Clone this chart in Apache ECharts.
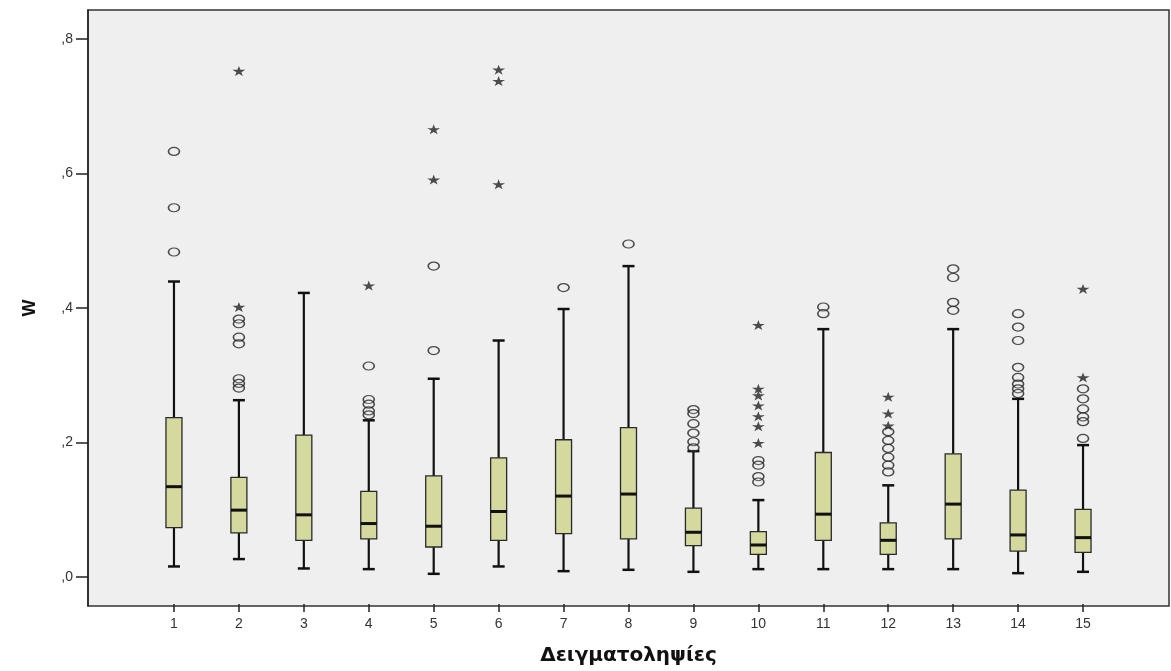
<!DOCTYPE html>
<html><head><meta charset="utf-8">
<script src="https://cdn.jsdelivr.net/npm/echarts@6/dist/echarts.min.js"></script>
<style>html,body{margin:0;padding:0;background:#fff}#c{width:1171px;height:671px}</style>
</head><body><div id="c"></div>
<script>
// ---- data ----
const categories = ['1','2','3','4','5','6','7','8','9','10','11','12','13','14','15'];
const lowWhisker  = [0.013,0.024,0.010,0.009,0.002,0.013,0.006,0.008,0.005,0.009,0.009,0.009,0.009,0.003,0.005];
const q1          = [0.071,0.063,0.052,0.054,0.042,0.052,0.062,0.054,0.044,0.031,0.052,0.031,0.054,0.036,0.034];
const median      = [0.132,0.097,0.090,0.077,0.073,0.095,0.118,0.121,0.064,0.045,0.091,0.052,0.106,0.060,0.056];
const q3          = [0.235,0.146,0.209,0.125,0.148,0.175,0.202,0.220,0.100,0.065,0.183,0.078,0.181,0.127,0.098];
const highWhisker = [0.438,0.261,0.421,0.231,0.293,0.350,0.397,0.461,0.185,0.112,0.367,0.134,0.367,0.263,0.194];
const outlierCircles = [
  [0.632,0.548,0.482],
  [0.382,0.375,0.355,0.345,0.293,0.286,0.279],
  [],
  [0.312,0.262,0.255,0.245,0.239],
  [0.461,0.335],
  [],
  [0.429],
  [0.494],
  [0.247,0.241,0.226,0.212,0.199,0.190],
  [0.171,0.164,0.147,0.139],
  [0.400,0.390],
  [0.214,0.201,0.189,0.176,0.164,0.154],
  [0.457,0.444,0.407,0.395],
  [0.390,0.370,0.350,0.310,0.295,0.285,0.278,0.271],
  [0.278,0.263,0.248,0.236,0.229,0.204]
];
const extremeStars = [
  [],
  [0.752,0.400],
  [],
  [0.432],
  [0.665,0.590],
  [0.754,0.737,0.583],
  [],
  [],
  [],
  [0.373,0.278,0.268,0.253,0.237,0.222,0.197],
  [],
  [0.266,0.241,0.223],
  [],
  [],
  [0.427,0.295]
];
const yTickValues = [0, 0.2, 0.4, 0.6, 0.8];
const yTickLabels = [',0', ',2', ',4', ',6', ',8'];
const xTitle = 'Δειγματοληψίες';
const yTitle = 'W';
const Y_MIN = -0.043, Y_MAX = 0.843;

// ---- build ----
const boxData = categories.map((c, i) => [i, lowWhisker[i], q1[i], median[i], q3[i], highWhisker[i]]);
const circleData = [];
outlierCircles.forEach((arr, i) => arr.forEach(v => circleData.push([i, v])));
const starData = [];
extremeStars.forEach((arr, i) => arr.forEach(v => starData.push([i, v])));

const FONT = 'Liberation Sans, Arial, sans-serif';
const STAR = 'path://M50,0 L61,35 L98,35 L68,57 L79,91 L50,70 L21,91 L32,57 L2,35 L39,35 Z';

function renderBox(params, api) {
  const x = api.value(0);
  const pLow = api.coord([x, api.value(1)]);
  const pQ1 = api.coord([x, api.value(2)]);
  const pMed = api.coord([x, api.value(3)]);
  const pQ3 = api.coord([x, api.value(4)]);
  const pHigh = api.coord([x, api.value(5)]);
  const cx = pLow[0];
  const bw = 16, cw = 12;
  const line = {stroke: '#111', lineWidth: 2.2};
  return {
    type: 'group',
    children: [
      {type: 'line', shape: {x1: cx, y1: pLow[1], x2: cx, y2: pQ1[1]}, style: line},
      {type: 'line', shape: {x1: cx, y1: pQ3[1], x2: cx, y2: pHigh[1]}, style: line},
      {type: 'line', shape: {x1: cx - cw / 2, y1: pLow[1], x2: cx + cw / 2, y2: pLow[1]}, style: {stroke: '#111', lineWidth: 2.5}},
      {type: 'line', shape: {x1: cx - cw / 2, y1: pHigh[1], x2: cx + cw / 2, y2: pHigh[1]}, style: {stroke: '#111', lineWidth: 2.5}},
      {type: 'rect', shape: {x: cx - bw / 2, y: pQ3[1], width: bw, height: pQ1[1] - pQ3[1]},
        style: {fill: '#d5d99e', stroke: '#2a2a2a', lineWidth: 1.3}},
      {type: 'line', shape: {x1: cx - bw / 2, y1: pMed[1], x2: cx + bw / 2, y2: pMed[1]}, style: {stroke: '#111', lineWidth: 3}}
    ]
  };
}

const chart = echarts.init(document.getElementById('c'), null, {renderer: 'canvas'});
chart.setOption({
  animation: false,
  backgroundColor: '#ffffff',
  grid: [
    {left: 88, right: 2, top: 10, bottom: 65, show: true, backgroundColor: '#efefef', borderColor: '#333', borderWidth: 1.5},
    {left: 141.5, right: 55.5, top: 10, bottom: 65}
  ],
  xAxis: [
    {type: 'value', gridIndex: 0, min: 0, max: 1, show: false},
    {type: 'category', gridIndex: 1, data: categories, boundaryGap: true, position: 'bottom',
      axisLine: {show: false, onZero: false},
      axisTick: {show: true, alignWithLabel: true, length: 8, lineStyle: {color: '#222', width: 1.5}},
      axisLabel: {color: '#333', fontSize: 14, margin: 13, fontFamily: FONT},
      splitLine: {show: false},
      name: xTitle, nameLocation: 'middle', nameGap: 42,
      nameTextStyle: {fontSize: 20, fontWeight: 'bold', color: '#111', fontFamily: 'DejaVu Sans, sans-serif'}
    }
  ],
  yAxis: [
    {type: 'value', gridIndex: 0, min: Y_MIN, max: Y_MAX,
      axisLine: {show: true, onZero: false, lineStyle: {color: '#222', width: 1.5}},
      axisTick: {show: true, length: 12, customValues: yTickValues, lineStyle: {color: '#222', width: 1.5}},
      axisLabel: {show: true, customValues: yTickValues, margin: 15, fontSize: 14, color: '#333', fontFamily: FONT,
        formatter: v => { const k = yTickValues.findIndex(t => Math.abs(t - v) < 1e-6); return k >= 0 ? yTickLabels[k] : ''; }},
      splitLine: {show: false},
      name: yTitle, nameLocation: 'middle', nameGap: 49, nameRotate: 90,
      nameTextStyle: {fontSize: 18, fontWeight: 'bold', color: '#111', fontFamily: FONT}
    },
    {type: 'value', gridIndex: 1, min: Y_MIN, max: Y_MAX, show: false}
  ],
  series: [
    {type: 'custom', xAxisIndex: 1, yAxisIndex: 1, data: boxData, renderItem: renderBox,
      encode: {x: 0, y: [1, 2, 3, 4, 5]}, z: 2},
    {type: 'scatter', xAxisIndex: 1, yAxisIndex: 1, data: circleData, symbol: 'circle', symbolSize: [11, 8],
      itemStyle: {color: 'rgba(239,239,239,0.2)', borderColor: '#222', borderWidth: 1.4}, z: 3},
    {type: 'scatter', xAxisIndex: 1, yAxisIndex: 1, data: starData, symbol: STAR, symbolSize: [13, 10],
      itemStyle: {color: '#222'}, z: 3}
  ]
});
</script>
</body></html>
